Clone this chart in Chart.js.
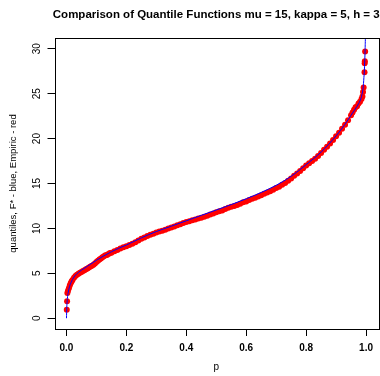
<!DOCTYPE html>
<html>
<head>
<meta charset="utf-8">
<script src="https://cdn.jsdelivr.net/npm/chart.js@4.4.1/dist/chart.umd.min.js"></script>
<style>
  html, body { margin: 0; padding: 0; background: #ffffff; overflow: hidden; }
  #wrap { width: 380px; height: 376px; overflow: hidden; position: relative; }
  canvas { display: block; }
</style>
</head>
<body>
<div id="wrap"><canvas id="qq" width="381" height="376" style="width:381px;height:376px"></canvas></div>
<script>
// Theoretical quantile function F* (blue curve)
const theoP = [0, 0.001, 0.003, 0.006, 0.01, 0.02, 0.03, 0.04, 0.05, 0.07, 0.1, 0.125, 0.15, 0.175,
  0.2, 0.25, 0.3, 0.35, 0.4, 0.45, 0.5, 0.55, 0.6, 0.65, 0.7, 0.75, 0.8, 0.85, 0.9, 0.93, 0.95,
  0.97, 0.98, 0.985, 0.99, 0.993, 0.995, 0.997, 0.998, 0.9995];
const theoQ = [0, 1.2, 2.2, 2.9, 3.5, 4.3, 4.8, 5.1, 5.35, 5.8, 6.45, 6.95, 7.4, 7.8,
  8.15, 8.95, 9.65, 10.25, 10.85, 11.45, 12.05, 12.65, 13.3, 14.0, 14.8, 15.8, 17.1, 18.5, 20.3, 21.6, 22.6,
  23.6, 24.2, 24.7, 25.6, 26.8, 28.0, 30.0, 31.5, 36];

// Empirical quantiles (red points)
const empP = [0.001, 0.002, 0.003, 0.005, 0.008, 0.011, 0.014, 0.017, 0.02, 0.025, 0.03, 0.035, 0.04,
  0.045, 0.05, 0.055, 0.06, 0.065, 0.07, 0.075, 0.08, 0.085, 0.09, 0.095, 0.1, 0.105, 0.11, 0.115,
  0.12, 0.125, 0.13, 0.135, 0.14, 0.145, 0.15,
  0.16, 0.17, 0.18, 0.19, 0.2, 0.21, 0.22, 0.23, 0.24, 0.25, 0.26, 0.27, 0.28, 0.29, 0.3,
  0.31, 0.32, 0.33, 0.34, 0.35, 0.36, 0.37, 0.38, 0.39, 0.4, 0.41, 0.42, 0.43, 0.44, 0.45,
  0.46, 0.47, 0.48, 0.49, 0.5, 0.51, 0.52, 0.53, 0.54, 0.55, 0.56, 0.57, 0.58, 0.59, 0.6,
  0.61, 0.62, 0.63, 0.64, 0.65, 0.66, 0.67, 0.68, 0.69, 0.7, 0.71, 0.72, 0.73, 0.74, 0.75,
  0.76, 0.77, 0.78, 0.79, 0.8, 0.81, 0.82, 0.83, 0.84, 0.85, 0.86, 0.87, 0.88, 0.89, 0.9,
  0.91, 0.92, 0.93, 0.94, 0.95, 0.955, 0.96, 0.965, 0.97, 0.975, 0.98, 0.985, 0.988, 0.99,
  0.992, 0.995, 0.9955, 0.996, 0.997];
const empQ = [0.95, 1.9, 2.8, 3.05, 3.35, 3.65, 3.9, 4.1, 4.25, 4.5, 4.7, 4.85, 4.95,
  5.05, 5.15, 5.25, 5.35, 5.45, 5.55, 5.65, 5.75, 5.85, 5.95, 6.1, 6.25, 6.4, 6.55, 6.65,
  6.8, 6.9, 7.0, 7.05, 7.15, 7.25, 7.3,
  7.45, 7.6, 7.75, 7.9, 8.0, 8.15, 8.3, 8.45, 8.65, 8.85, 9.0, 9.15, 9.3, 9.4, 9.55,
  9.65, 9.75, 9.85, 10.0, 10.1, 10.2, 10.35, 10.45, 10.6, 10.7, 10.8, 10.9, 11.0, 11.1, 11.2,
  11.3, 11.4, 11.55, 11.65, 11.8, 11.9, 12.0, 12.15, 12.3, 12.4, 12.5, 12.6, 12.75, 12.9, 13.0,
  13.15, 13.3, 13.4, 13.55, 13.7, 13.85, 14.0, 14.15, 14.3, 14.5, 14.65, 14.85, 15.05, 15.3, 15.55,
  15.85, 16.1, 16.4, 16.7, 17.0, 17.25, 17.5, 17.75, 18.05, 18.4, 18.75, 19.1, 19.45, 19.85, 20.25,
  20.65, 21.1, 21.55, 22.05, 22.6, 22.9, 23.2, 23.5, 23.6, 23.9, 24.1, 24.4, 24.7, 25.2,
  25.7, 27.4, 28.4, 28.6, 29.7];

// Axis ticks
const xTicks = [0, 0.2, 0.4, 0.6, 0.8, 1.0];
const yTicks = [0, 5, 10, 15, 20, 25, 30];

const titleText = 'Comparison of Quantile Functions mu = 15, kappa = 5, h = 3';
const xLabel = 'p';
const yLabel = 'quantiles, F* - blue, Empiric - red';

const FONT = '"Liberation Sans", Arial, Helvetica, sans-serif';

const theoData = theoP.map((p, i) => ({ x: p, y: theoQ[i] }));
const empData = empP.map((p, i) => ({ x: p, y: empQ[i] }));

// Box, main title and rotated y tick labels, in the style of a base R plot
const framePlugin = {
  id: 'frame',
  afterDraw(chart) {
    const { ctx, chartArea: a, scales } = chart;
    ctx.save();
    ctx.strokeStyle = '#000';
    ctx.lineWidth = 1;
    ctx.strokeRect(Math.round(a.left) + 0.5, Math.round(a.top) + 0.5,
      Math.round(a.right - a.left), Math.round(a.bottom - a.top));

    ctx.fillStyle = '#000';
    ctx.font = 'bold 11.5px ' + FONT;
    ctx.textAlign = 'center';
    ctx.textBaseline = 'middle';
    ctx.fillText(titleText, (a.left + a.right) / 2, 15);

    ctx.font = '10px ' + FONT;
    const ys = scales.y;
    ys.ticks.forEach(t => {
      const py = ys.getPixelForValue(t.value);
      ctx.save();
      ctx.translate(37, py);
      ctx.rotate(-Math.PI / 2);
      ctx.fillText(String(t.value), 0, 0);
      ctx.restore();
    });
    ctx.restore();
  }
};

new Chart(document.getElementById('qq'), {
  type: 'scatter',
  data: {
    datasets: [
      {
        label: 'F*',
        type: 'line',
        data: theoData,
        borderColor: '#0000ff',
        borderWidth: 1,
        pointRadius: 0,
        fill: false,
        cubicInterpolationMode: 'monotone',
        order: 0
      },
      {
        label: 'Empiric',
        data: empData,
        backgroundColor: '#ff0000',
        borderColor: '#ff0000',
        borderWidth: 0,
        pointRadius: 3,
        pointHoverRadius: 3,
        order: 1
      }
    ]
  },
  options: {
    responsive: false,
    devicePixelRatio: 1,
    animation: false,
    events: [],
    layout: { padding: { top: 38, left: 0, right: 0, bottom: 0 } },
    plugins: { legend: { display: false }, tooltip: { enabled: false }, title: { display: false } },
    scales: {
      x: {
        type: 'linear',
        min: -0.04,
        max: 1.04,
        afterBuildTicks: s => { s.ticks = xTicks.map(v => ({ value: v })); },
        afterFit: s => { s.height = 47; },
        border: { display: false },
        grid: { display: true, drawOnChartArea: false, drawTicks: true, tickLength: 7, color: '#000', tickWidth: 1 },
        ticks: {
          color: '#000',
          font: { family: FONT, size: 10, weight: 'bold' },
          padding: 6,
          maxRotation: 0,
          autoSkip: false,
          callback: v => Number(v).toFixed(1)
        },
        title: { display: true, text: xLabel, color: '#000', font: { family: FONT, size: 10 }, padding: { top: 0, bottom: 2.3 } }
      },
      y: {
        type: 'linear',
        min: -1.2,
        max: 31.2,
        afterBuildTicks: s => { s.ticks = yTicks.map(v => ({ value: v })); },
        afterFit: s => { s.width = 54.5; },
        border: { display: false },
        grid: { display: true, drawOnChartArea: false, drawTicks: true, tickLength: 7, color: '#000', tickWidth: 1 },
        ticks: { display: false },
        title: { display: true, text: yLabel, color: '#000', font: { family: FONT, size: 9.5 }, padding: { top: 7.3, bottom: 0 } }
      }
    }
  },
  plugins: [framePlugin]
});
</script>
</body>
</html>
